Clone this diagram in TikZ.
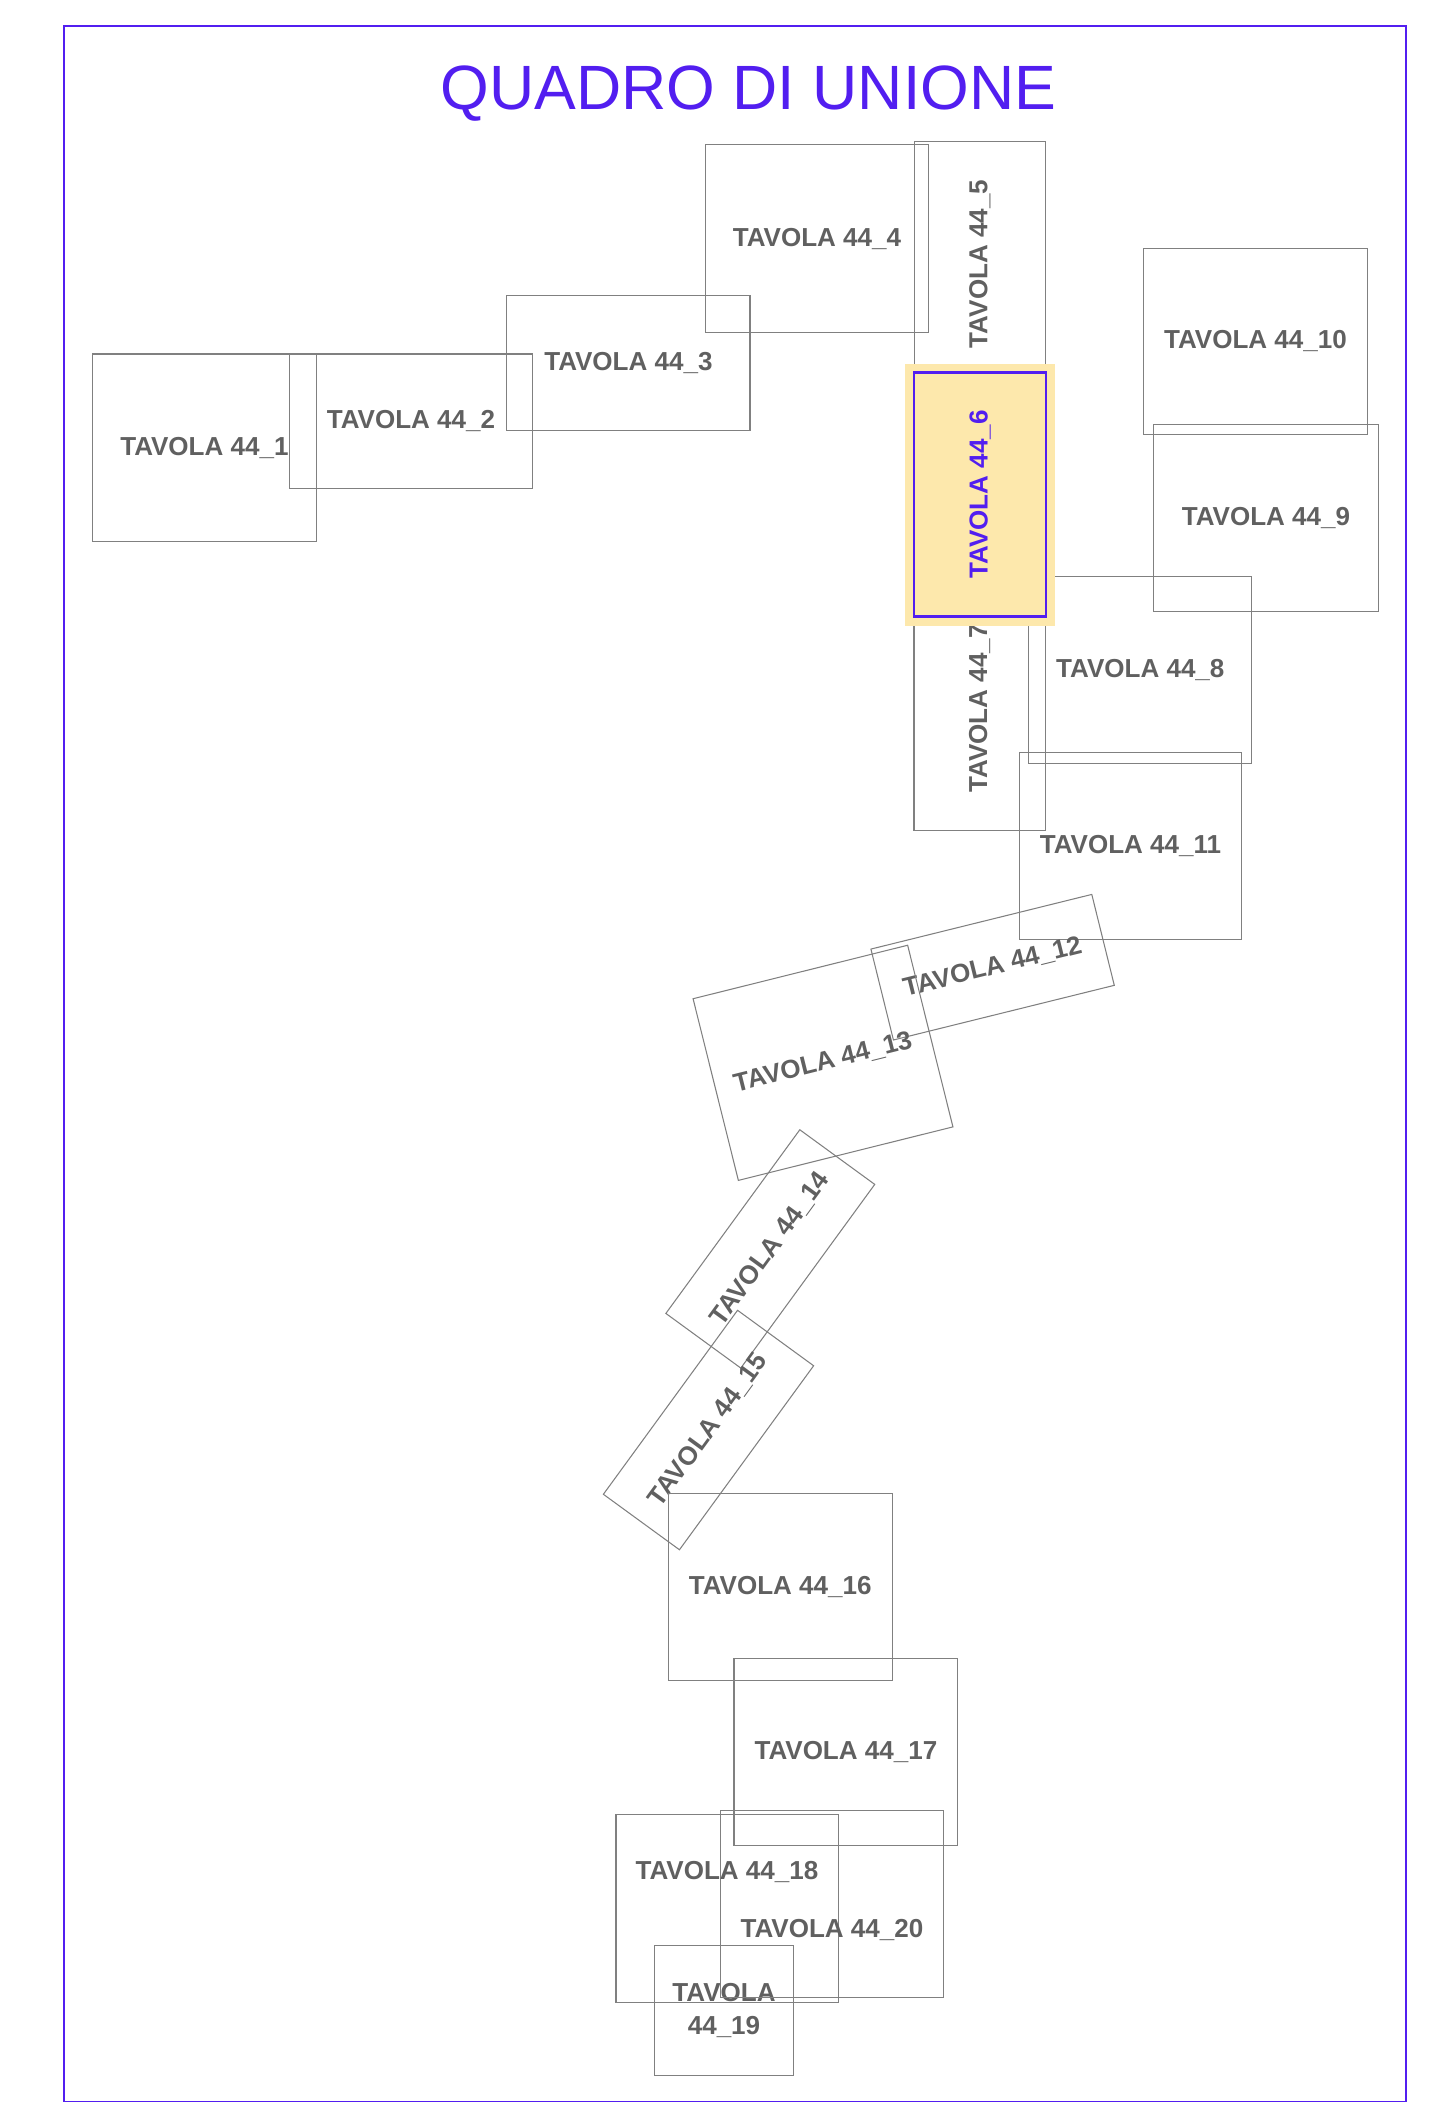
\documentclass[tikz,border=0pt]{standalone}
\usepackage{fontspec}
\setmainfont{Liberation Sans}
\usetikzlibrary{positioning}
\definecolor{mapblue}{RGB}{82,30,240}
\definecolor{mapyellow}{RGB}{253,232,172}
\definecolor{sheetgray}{RGB}{128,128,128}
\definecolor{labelgray}{RGB}{96,96,96}

\begin{document}
\begin{tikzpicture}[x=0.01cm,y=-0.01cm]
\tikzset{
  sheet/.style={rectangle,draw=sheetgray,line width=0.3pt,inner sep=0pt,outer sep=0pt,
    text=labelgray,font=\fontsize{7.4}{9.3}\selectfont\bfseries,align=center},
  sheetlabel/.style={inner sep=0pt,text=labelgray,font=\fontsize{7.4}{9.3}\selectfont\bfseries,align=center},
  current/.style={sheet,draw=mapblue,line width=0.75pt,text=mapblue},
  highlight/.style={fill=mapyellow,draw=none},
  frameline/.style={draw=mapblue,line width=0.45pt},
  maptitle/.style={inner sep=0pt,text=mapblue,font=\fontsize{17.8}{21}\selectfont}
}
\useasboundingbox (0,0) rectangle (1453,2121);
\draw[frameline] (63.8,26) rectangle (1405.7,2101.5);
\node[maptitle,anchor=base] (n_title) at (748.5,109.8) {QUADRO DI UNIONE};
% fogli
\node[sheet,minimum width=22.33mm,minimum height=18.71mm] (n_t01) at (204.4,447.6) {TAVOLA 44\_1};
\node[sheet,minimum width=24.37mm,minimum height=13.43mm] (n_t02) at (411.0,421.2) {TAVOLA 44\_2};
\node[sheet,minimum width=24.30mm,minimum height=13.44mm] (n_t03) at (628.4,363.0) {TAVOLA 44\_3};
\node[sheet,minimum width=22.36mm,minimum height=18.75mm] (n_t04) at (817.0,238.5) {TAVOLA 44\_4};
\node[sheet,minimum width=24.40mm,minimum height=13.06mm,rotate=90] (n_t05) at (979.9,264.0) {TAVOLA 44\_5};
\node[sheet,minimum width=24.37mm,minimum height=13.10mm,rotate=90] (n_t07) at (979.5,708.5) {TAVOLA 44\_7};
\node[sheet,minimum width=22.31mm,minimum height=18.62mm] (n_t08) at (1140.3,669.9) {TAVOLA 44\_8};
\node[sheet,minimum width=22.45mm,minimum height=18.67mm] (n_t09) at (1266.0,517.9) {TAVOLA 44\_9};
\node[sheet,minimum width=22.37mm,minimum height=18.58mm] (n_t10) at (1255.4,341.3) {TAVOLA 44\_10};
\node[sheet,minimum width=22.19mm,minimum height=18.71mm] (n_t11) at (1130.5,845.8) {TAVOLA 44\_11};
\node[sheet,minimum width=22.74mm,minimum height=9.36mm,rotate=13.9] (n_t12) at (992.6,967.2) {TAVOLA 44\_12};
\node[sheet,minimum width=22.10mm,minimum height=18.71mm,rotate=14.0] (n_t13) at (823.0,1062.8) {TAVOLA 44\_13};
\node[sheet,minimum width=22.72mm,minimum height=9.27mm,rotate=53.9] (n_t14) at (770.3,1248.9) {TAVOLA 44\_14};
\node[sheet,minimum width=22.76mm,minimum height=9.41mm,rotate=53.9] (n_t15) at (708.5,1430.0) {TAVOLA 44\_15};
\node[sheet,minimum width=22.37mm,minimum height=18.70mm] (n_t16) at (780.2,1586.7) {TAVOLA 44\_16};
\node[sheet,minimum width=22.37mm,minimum height=18.70mm] (n_t17) at (845.9,1752.3) {TAVOLA 44\_17};
\node[sheet,minimum width=22.27mm,minimum height=18.70mm] (n_t18) at (727.4,1908.5) {};
\node[sheet,minimum width=13.86mm,minimum height=13.01mm] (n_t19) at (724.0,2010.2) {TAVOLA\\44\_19};
\node[sheet,minimum width=22.30mm,minimum height=18.66mm] (n_t20) at (832.2,1904.0) {};
\node[sheetlabel] (n_t18_lbl) at (727.0,1872.4) {TAVOLA 44\_18};
\node[sheetlabel] (n_t20_lbl) at (832.0,1930.0) {TAVOLA 44\_20};
% foglio corrente
\fill[highlight] (904.5,363.5) rectangle (1055.4,626.0);
\node[current,minimum width=24.37mm,minimum height=13.22mm,rotate=90] (n_t06) at (980.0,494.6) {TAVOLA 44\_6};
\end{tikzpicture}
\end{document}
